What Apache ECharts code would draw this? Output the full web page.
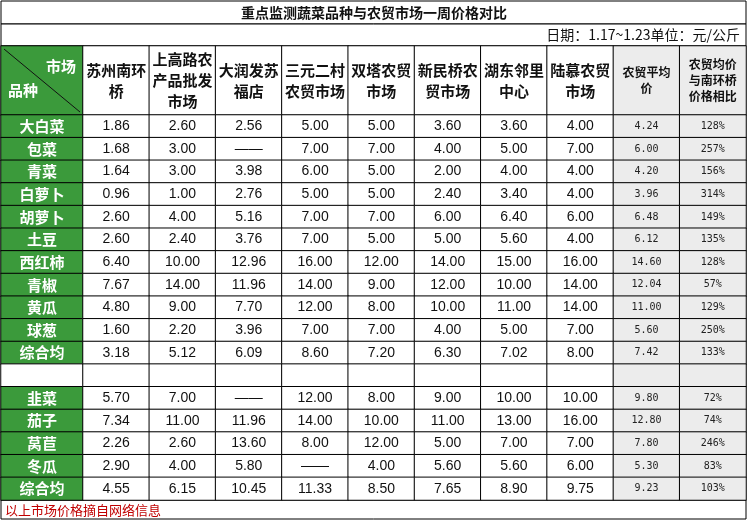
<!DOCTYPE html>
<html><head><meta charset="utf-8">
<script src="https://cdn.jsdelivr.net/npm/echarts@6/dist/echarts.min.js"></script>
<style>html,body{margin:0;padding:0;background:#fff}#main{width:748px;height:524px}</style>
</head><body><div id="main"></div>
<script>
var markets = ['苏州南环\n桥','上高路农\n产品批发\n市场','大润发苏\n福店','三元二村\n农贸市场','双塔农贸\n市场','新民桥农\n贸市场','湖东邻里\n中心','陆慕农贸\n市场','农贸平均\n价','农贸均价\n与南环桥\n价格相比'];
var kinds = ['大白菜','包菜','青菜','白萝卜','胡萝卜','土豆','西红柿','青椒','黄瓜','球葱','综合均','','韭菜','茄子','莴苣','冬瓜','综合均'];
// 每行: 8个市场价格 (null = ——)
var prices = [
  [1.86,2.60,2.56,5.00,5.00,3.60,3.60,4.00],
  [1.68,3.00,null,7.00,7.00,4.00,5.00,7.00],
  [1.64,3.00,3.98,6.00,5.00,2.00,4.00,4.00],
  [0.96,1.00,2.76,5.00,5.00,2.40,3.40,4.00],
  [2.60,4.00,5.16,7.00,7.00,6.00,6.40,6.00],
  [2.60,2.40,3.76,7.00,5.00,5.00,5.60,4.00],
  [6.40,10.00,12.96,16.00,12.00,14.00,15.00,16.00],
  [7.67,14.00,11.96,14.00,9.00,12.00,10.00,14.00],
  [4.80,9.00,7.70,12.00,8.00,10.00,11.00,14.00],
  [1.60,2.20,3.96,7.00,7.00,4.00,5.00,7.00],
  [3.18,5.12,6.09,8.60,7.20,6.30,7.02,8.00],
  null,
  [5.70,7.00,null,12.00,8.00,9.00,10.00,10.00],
  [7.34,11.00,11.96,14.00,10.00,11.00,13.00,16.00],
  [2.26,2.60,13.60,8.00,12.00,5.00,7.00,7.00],
  [2.90,4.00,5.80,null,4.00,5.60,5.60,6.00],
  [4.55,6.15,10.45,11.33,8.50,7.65,8.90,9.75]
];
var avgPrice = [4.24,6.00,4.20,3.96,6.48,6.12,14.60,12.04,11.00,5.60,7.42,null,9.80,12.80,7.80,5.30,9.23];
var ratio = ['128%','257%','156%','314%','149%','135%','128%','57%','129%','250%','133%','','72%','74%','246%','83%','103%'];

var GREEN = '#3b9a3b', GRAY = '#ececec';
var cols = [];
for (var i = 0; i < markets.length; i++) cols.push(String(i));
var rows = [];
for (var j = 0; j < kinds.length; j++) rows.push(String(j));

var bodyData = [];
for (var r = 0; r < kinds.length; r++) {
  for (var c = 0; c < 10; c++) {
    var txt = '';
    if (prices[r]) {
      if (c < 8) txt = prices[r][c] == null ? '——' : prices[r][c].toFixed(2);
      else if (c == 8) txt = avgPrice[r].toFixed(2);
      else txt = ratio[r];
    }
    var item = {value: [c, r, 1], txt: txt, itemStyle: {color: c >= 8 ? GRAY : '#fff'}};
    if (c >= 8) item.label = {fontFamily: 'DejaVu Sans Mono', fontSize: 10, color: '#222'};
    bodyData.push(item);
  }
}
var leftData = kinds.map(function(k, r){ return {value:[0, r, 1], txt: k, itemStyle:{color: k ? GREEN : '#fff'}}; });
var headData = markets.map(function(m, c){
  var it = {value:[c, 0, 1], txt: m, itemStyle:{color: c >= 8 ? GRAY : '#fff'}};
  if (c >= 8) it.label = {fontSize: 12, lineHeight: 16};
  return it;
});

function catAxis(idx, data, inv){
  return {type:'category', gridIndex: idx, data: data, show:false, inverse: !!inv};
}
var fmt = function(p){ return p.data.txt; };
var border = {borderColor:'#000', borderWidth:1};

var chart = echarts.init(document.getElementById('main'));
chart.setOption({
  animation: false,
  grid: [
    {left:1, top:46, width:82, height:69},
    {left:83, top:46, width:663, height:69},
    {left:1, top:115, width:82, height:385},
    {left:83, top:115, width:663, height:385}
  ],
  xAxis: [catAxis(0,['0']), catAxis(1,cols), catAxis(2,['0']), catAxis(3,cols)],
  yAxis: [catAxis(0,['0']), catAxis(1,['0']), catAxis(2,rows,true), catAxis(3,rows,true)],
  series: [
    {type:'heatmap', xAxisIndex:0, yAxisIndex:0, data:[{value:[0,0,1], itemStyle:{color:GREEN}}], itemStyle:border, label:{show:false}},
    {type:'heatmap', xAxisIndex:1, yAxisIndex:1, data:headData, itemStyle:border,
     label:{show:true, formatter:fmt, fontFamily:'Noto Sans CJK SC', fontWeight:'bold', fontSize:15, lineHeight:21, color:'#111'}},
    {type:'heatmap', xAxisIndex:2, yAxisIndex:2, data:leftData, itemStyle:border,
     label:{show:true, formatter:fmt, fontFamily:'Noto Sans CJK SC', fontWeight:'bold', fontSize:15, color:'#fff'}},
    {type:'heatmap', xAxisIndex:3, yAxisIndex:3, data:bodyData, itemStyle:border,
     label:{show:true, formatter:fmt, fontFamily:'Liberation Sans, Arial, sans-serif', fontSize:14, color:'#111'}}
  ],
  graphic: [
    {type:'rect', shape:{x:1, y:1, width:745, height:23}, style:{fill:'#fff', stroke:'#000', lineWidth:1}},
    {type:'text', x:374, y:13, style:{text:'重点监测蔬菜品种与农贸市场一周价格对比', font:'bold 14px "Noto Sans CJK SC"', fill:'#111', align:'center', verticalAlign:'middle'}},
    {type:'rect', shape:{x:1, y:24, width:745, height:22}, style:{fill:'#fff', stroke:'#000', lineWidth:1}},
    {type:'text', x:740, y:35, style:{text:'日期：1.17~1.23单位：元/公斤', font:'14px "Noto Sans CJK SC"', fill:'#111', align:'right', verticalAlign:'middle'}},
    {type:'line', shape:{x1:4, y1:49, x2:80, y2:112}, style:{stroke:'#111', lineWidth:1}, z:10},
    {type:'text', x:76, y:66, style:{text:'市场', font:'bold 15px "Noto Sans CJK SC"', fill:'#fff', align:'right', verticalAlign:'middle'}, z:10},
    {type:'text', x:8, y:90, style:{text:'品种', font:'bold 15px "Noto Sans CJK SC"', fill:'#fff', align:'left', verticalAlign:'middle'}, z:10},
    {type:'rect', shape:{x:1, y:500, width:745, height:19}, style:{fill:'#fff', stroke:'#000', lineWidth:1}},
    {type:'text', x:5, y:510, style:{text:'以上市场价格摘自网络信息', font:'13px "Noto Sans CJK SC"', fill:'#c00000', align:'left', verticalAlign:'middle'}}
  ]
});
</script>
</body></html>
